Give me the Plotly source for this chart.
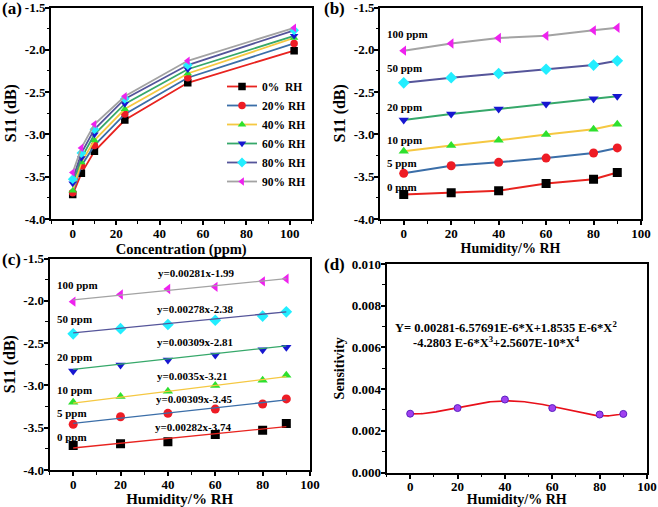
import numpy as np
import plotly.graph_objects as go

W, H = 658, 507
FONT = "Liberation Serif"

# ---------------- data ----------------
rh_levels = [0, 20, 40, 60, 80, 90]
conc_positions = [0, 4, 10, 24, 53, 102]
conc_names = ["0 ppm", "5 ppm", "10 ppm", "20 ppm", "50 ppm", "100 ppm"]
rh_names = ["0%  RH", "20% RH", "40% RH", "60% RH", "80% RH", "90% RH"]

s11_0ppm = [-3.71, -3.69, -3.665, -3.58, -3.53, -3.45]
s11_5ppm = [-3.46, -3.37, -3.33, -3.28, -3.22, -3.16]
s11_10ppm = [-3.20, -3.13, -3.07, -3.00, -2.94, -2.88]
s11_20ppm = [-2.83, -2.76, -2.70, -2.64, -2.58, -2.55]
s11_50ppm = [-2.39, -2.33, -2.28, -2.23, -2.18, -2.13]
s11_100ppm = [-2.01, -1.925, -1.86, -1.835, -1.77, -1.74]
s11_by_conc = [s11_0ppm, s11_5ppm, s11_10ppm, s11_20ppm, s11_50ppm, s11_100ppm]

fit_slopes = [0.00282, 0.00309, 0.0035, 0.00309, 0.00278, 0.00281]
fit_intercepts = [-3.74, -3.45, -3.21, -2.81, -2.38, -1.99]
fit_labels = ["y=0.00282x-3.74", "y=0.00309x-3.45", "y=0.0035x-3.21",
              "y=0.00309x-2.81", "y=0.00278x-2.38", "y=0.00281x-1.99"]

sensitivity = [0.00282, 0.00309, 0.0035, 0.00309, 0.00278, 0.00281]

s11_ticks = [-4.0, -3.5, -3.0, -2.5, -2.0, -1.5]
s11_ticktext = ["-4.0", "-3.5", "-3.0", "-2.5", "-2.0", "-1.5"]
sens_ticks = [0.0, 0.002, 0.004, 0.006, 0.008, 0.010]
sens_ticktext = ["0.000", "0.002", "0.004", "0.006", "0.008", "0.010"]
x_ticks = [0, 20, 40, 60, 80, 100]
x_ticktext = ["0", "20", "40", "60", "80", "100"]

# ---------------- styles ----------------
line_colors = ["#e8231f", "#3b6ea8", "#f5c842", "#36a86a", "#55559a", "#a3a3a3"]
marker_colors = ["#000000", "#ee1c25", "#2ee02e", "#1717d0", "#22eeff", "#ee22ee"]
marker_symbols = ["square", "circle", "triangle-up", "triangle-down", "diamond", "triangle-left"]


def px_dom_x(a, b):
    return [a / W, b / W]


def px_dom_y(top, bottom):
    return [1 - bottom / H, 1 - top / H]


fig = go.Figure()

# (a) S11 vs concentration, one line per RH level
for j, name in enumerate(rh_names):
    yvals = [s11_by_conc[i][j] for i in range(len(conc_positions))]
    fig.add_trace(go.Scatter(
        x=conc_positions, y=yvals, mode="lines+markers", name=name,
        line=dict(color=line_colors[j], width=1.8),
        marker=dict(symbol=marker_symbols[j], color=marker_colors[j], size=7.5),
        xaxis="x", yaxis="y", showlegend=True))

# (b) S11 vs humidity, one line per concentration
for i, name in enumerate(conc_names):
    fig.add_trace(go.Scatter(
        x=rh_levels, y=s11_by_conc[i], mode="lines+markers", name=name,
        line=dict(color=line_colors[i], width=2),
        marker=dict(symbol=marker_symbols[i], color=marker_colors[i], size=9),
        xaxis="x2", yaxis="y2", showlegend=False))

# (c) markers + linear fits
for i, name in enumerate(conc_names):
    fig.add_trace(go.Scatter(
        x=rh_levels, y=s11_by_conc[i], mode="markers", name=name,
        marker=dict(symbol=marker_symbols[i], color=marker_colors[i], size=9),
        xaxis="x3", yaxis="y3", showlegend=False))
    xf = np.array([rh_levels[0], rh_levels[-1]], dtype=float)
    fig.add_trace(go.Scatter(
        x=xf, y=fit_slopes[i] * xf + fit_intercepts[i], mode="lines",
        line=dict(color=line_colors[i], width=1.3),
        xaxis="x3", yaxis="y3", showlegend=False, hoverinfo="skip"))

# (d) sensitivity with polynomial fit
coef = np.polyfit(rh_levels, sensitivity, 4)
xd = np.linspace(0, 90, 200)
fig.add_trace(go.Scatter(
    x=xd, y=np.polyval(coef, xd), mode="lines",
    line=dict(color="#e8101a", width=1.6),
    xaxis="x4", yaxis="y4", showlegend=False, hoverinfo="skip"))
fig.add_trace(go.Scatter(
    x=rh_levels, y=sensitivity, mode="markers",
    marker=dict(symbol="circle", color="#a040f0", size=7,
                line=dict(color="#5a20c0", width=1)),
    xaxis="x4", yaxis="y4", showlegend=False))

tickfont = dict(family=FONT, size=13, color="black", weight="bold")


def xax(domain, anchor, rng, title, tsize=15, standoff=0, minor_dtick=10):
    return dict(domain=domain, anchor=anchor, range=rng, automargin=True,
                tickmode="array", tickvals=list(x_ticks), ticktext=list(x_ticktext),
                ticks="outside", ticklen=4, tickwidth=1.5, tickcolor="black",
                ticklabelstandoff=-3,
                minor=dict(tickmode="linear", tick0=0, dtick=minor_dtick,
                           ticks="outside", ticklen=2.5, tickwidth=1.2, tickcolor="black"),
                showline=True, linecolor="black", linewidth=2, mirror=True,
                showgrid=False, zeroline=False, tickfont=tickfont,
                title=dict(text=title, standoff=standoff,
                           font=dict(family=FONT, size=tsize, color="black", weight="bold")))


def yax(domain, anchor, rng, tv, tt, title, tsize=16, minor_dtick=0.25):
    return dict(domain=domain, anchor=anchor, range=rng, automargin=False,
                tickmode="array", tickvals=list(tv), ticktext=list(tt),
                ticks="outside", ticklen=4, tickwidth=1.5, tickcolor="black",
                ticklabelstandoff=-3,
                minor=dict(tickmode="linear", tick0=0, dtick=minor_dtick,
                           ticks="outside", ticklen=2.5, tickwidth=1.2, tickcolor="black"),
                showline=True, linecolor="black", linewidth=2, mirror=True,
                showgrid=False, zeroline=False, tickfont=tickfont,
                title=dict(text=title, standoff=4,
                           font=dict(family=FONT, size=tsize, color="black", weight="bold")))


dom_a_x = px_dom_x(51, 311.5)
dom_b_x = px_dom_x(380, 641)
dom_c_x = px_dom_x(49.5, 310)
dom_d_x = px_dom_x(386.5, 647)
dom_ab_y = px_dom_y(7.5, 219)
dom_c_y = px_dom_y(258.5, 470)
dom_d_y = px_dom_y(264, 472.5)

fig.update_layout(
    width=W, height=H, margin=dict(l=0, r=0, t=0, b=0, autoexpand=False),
    paper_bgcolor="white", plot_bgcolor="white", hovermode=False,
    font=dict(family=FONT, color="black", weight="bold"),
    xaxis=xax(dom_a_x, "y", [-10, 110], "Concentration (ppm)", 14.5, 0),
    yaxis=yax(dom_ab_y, "x", [-4, -1.5], s11_ticks, s11_ticktext, "S11 (dB)", 16),
    xaxis2=xax(dom_b_x, "y2", [-10, 100], "Humidity/% RH", 14, 1),
    yaxis2=yax(dom_ab_y, "x2", [-4, -1.5], s11_ticks, s11_ticktext, "S11 (dB)", 16),
    xaxis3=xax(dom_c_x, "y3", [-10, 100], "Humidity/% RH", 15, 2),
    yaxis3=yax(dom_c_y, "x3", [-4, -1.5], s11_ticks, s11_ticktext, "S11 (dB)", 16),
    xaxis4=xax(dom_d_x, "y4", [-10, 100], "Humidity/% RH", 14, 1),
    yaxis4=yax(dom_d_y, "x4", [0, 0.010], sens_ticks, sens_ticktext, "Sensitivity", 14,
               minor_dtick=0.001),
    legend=dict(x=222 / W, y=1 - 72 / H, xanchor="left", yanchor="top",
                bgcolor="rgba(0,0,0,0)", borderwidth=0,
                font=dict(family=FONT, size=11.5, color="black", weight="bold"),
                itemwidth=30, tracegroupgap=0),
)

ann = []
lab_font = dict(family=FONT, size=17, color="black", weight="bold")
for txt, xp, yp in [("(a)", 0, 9), ("(b)", 322, 9), ("(c)", 0, 259), ("(d)", 322, 264)]:
    ann.append(dict(text=txt, x=xp / W, y=1 - yp / H, xref="paper", yref="paper",
                    xanchor="left", yanchor="middle", showarrow=False, font=lab_font))

small = dict(family=FONT, size=11, color="black", weight="bold")
# (b) concentration labels
b_label_y = [-3.62, -3.34, -3.07, -2.68, -2.22, -1.81]
for i, name in enumerate(conc_names):
    ann.append(dict(text=name, x=-7.8, y=b_label_y[i], xref="x2", yref="y2",
                    xanchor="left", yanchor="middle", showarrow=False, font=small))
# (c) concentration labels and fit equations
c_label_y = [-3.61, -3.33, -3.06, -2.66, -2.22, -1.81]
c_eq_y = [-3.49, -3.16, -2.89, -2.485, -2.10, -1.67]
c_eq_x = [33.8, 34.2, 34.7, 34.7, 34.7, 35.1]
eq_font = dict(family=FONT, size=11, color="black", weight="bold")
for i, name in enumerate(conc_names):
    ann.append(dict(text=name, x=-7.5, y=c_label_y[i], xref="x3", yref="y3",
                    xanchor="left", yanchor="middle", showarrow=False, font=small))
    ann.append(dict(text=fit_labels[i], x=c_eq_x[i], y=c_eq_y[i], xref="x3", yref="y3",
                    xanchor="left", yanchor="middle", showarrow=False, font=eq_font))
# (d) fitted polynomial text
d_font = dict(family=FONT, size=12.5, color="black", weight="bold")
ann.append(dict(text="Y= 0.00281-6.57691E-6*X+1.8535 E-6*X<sup>2</sup>",
                x=-7.2, y=0.0070, xref="x4", yref="y4", xanchor="left", yanchor="middle",
                showarrow=False, font=d_font))
ann.append(dict(text="-4.2803 E-6*X<sup>3</sup>+2.5607E-10*X<sup>4</sup>",
                x=0.5, y=0.00628, xref="x4", yref="y4", xanchor="left", yanchor="middle",
                showarrow=False, font=d_font))

fig.update_layout(annotations=ann)
fig.write_html("out.html", config={"displayModeBar": False},
               post_script="document.body.style.margin='0';document.body.style.overflow='hidden';")
